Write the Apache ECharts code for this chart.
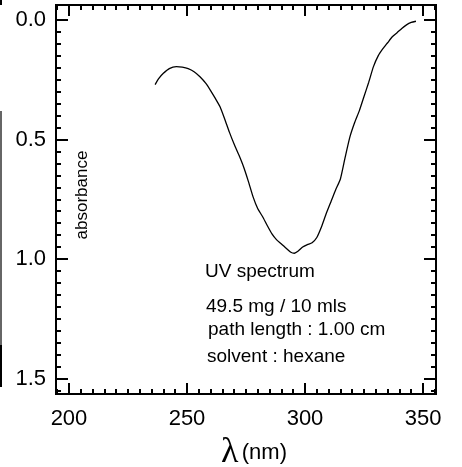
<!DOCTYPE html>
<html>
<head>
<meta charset="utf-8">
<script src="https://cdn.jsdelivr.net/npm/echarts@6/dist/echarts.min.js"></script>
<style>
  html, body { margin: 0; padding: 0; background: #fff; }
  #container { width: 462px; height: 467px; }
</style>
</head>
<body>
<div id="container"></div>
<script>
// spectrum (nm, absorbance)
const wavelength = [236.5, 238, 240, 242.5, 245.5, 248, 250.5, 253, 255.5, 258,
  260, 262, 264, 266, 268, 270, 272, 274, 276, 278,
  280, 282, 284, 286, 288, 290, 292, 294, 295.5, 297,
  299, 301, 303, 305, 307, 309, 311, 313, 315, 317,
  319, 321, 323, 325, 327, 329, 331, 333, 335, 337,
  339, 341, 343, 345, 347];
const absorbance = [0.27, 0.245, 0.223, 0.203, 0.195, 0.197, 0.203, 0.216, 0.237, 0.265,
  0.295, 0.328, 0.363, 0.415, 0.47, 0.52, 0.565, 0.615, 0.675, 0.74,
  0.79, 0.822, 0.86, 0.895, 0.92, 0.937, 0.955, 0.972, 0.976, 0.968,
  0.95, 0.94, 0.932, 0.91, 0.865, 0.81, 0.76, 0.71, 0.665, 0.575,
  0.49, 0.43, 0.38, 0.32, 0.26, 0.195, 0.15, 0.12, 0.095, 0.07,
  0.053, 0.035, 0.02, 0.01, 0.005];

const xTicks = [200, 250, 300, 350];
const yTicks = [0, 0.5, 1.0, 1.5];
const notes = ['UV spectrum', '49.5 mg / 10 mls', 'path length : 1.00 cm', 'solvent : hexane'];

const xMin = 194.5, xMax = 355.5;
const yMin = -0.063, yMax = 1.565;

// minor tick positions (5 nm, 0.05 abs)
let xMinor = [];
for (let v = 195; v <= 355; v += 5) if (v % 50 !== 0) xMinor.push(v);
let yMinor = [];
for (let i = 0; i <= 31; i++) if (i % 10 !== 0) yMinor.push(+(i * 0.05).toFixed(2));

const font = 'Liberation Sans';

function xAx(pos, ticks, len, labels) {
  return {
    type: 'value', position: pos, min: xMin, max: xMax,
    axisLine: { show: false, onZero: false }, splitLine: { show: false },
    axisTick: { show: true, inside: true, length: len, customValues: ticks,
      lineStyle: { color: '#000', width: 2 } },
    axisLabel: { show: labels, customValues: ticks, margin: 14,
      fontSize: 22, color: '#000', fontFamily: font },
  };
}
function yAx(pos, ticks, len, labels) {
  return {
    type: 'value', position: pos, min: yMin, max: yMax, inverse: true,
    axisLine: { show: false, onZero: false }, splitLine: { show: false },
    axisTick: { show: true, inside: true, length: len, customValues: ticks,
      lineStyle: { color: '#000', width: 2 } },
    axisLabel: { show: labels, customValues: ticks, margin: 10,
      fontSize: 22, color: '#000', fontFamily: font,
      formatter: (v) => v.toFixed(1) },
  };
}

let xAxes = [xAx('bottom', xTicks, 11, true), xAx('bottom', xMinor, 5, false),
  xAx('top', xTicks, 11, false), xAx('top', xMinor, 5, false)];
xAxes[0].name = '{l|λ} {u|(nm)}';
xAxes[0].nameLocation = 'middle';
xAxes[0].nameGap = 34;
xAxes[0].nameTextStyle = {
  padding: [0, 0, 0, 16],
  rich: {
    l: { fontFamily: 'Liberation Serif', fontSize: 36, color: '#000' },
    u: { fontFamily: font, fontSize: 22, color: '#000' },
  },
};

let yAxes = [yAx('left', yTicks, 12, true), yAx('left', yMinor, 5, false),
  yAx('right', yTicks, 12, false), yAx('right', yMinor, 5, false)];

let noteY = [272, 307, 330, 357];
let noteX = [205, 206, 208, 207];
let graphics = notes.map((t, i) => ({
  type: 'text', x: noteX[i], y: noteY[i],
  style: { text: t, font: '19px ' + font, fill: '#000', align: 'left', verticalAlign: 'middle' },
}));
graphics.push({
  type: 'text', x: 82, y: 195, rotation: Math.PI / 2,
  style: { text: 'absorbance', font: '17px ' + font, fill: '#000', align: 'center', verticalAlign: 'middle' },
});
// scan edge on the left
graphics.push({ type: 'line', shape: { x1: 1, y1: 0, x2: 1, y2: 5 }, style: { stroke: '#000', lineWidth: 2 } });
graphics.push({ type: 'line', shape: { x1: 1, y1: 111, x2: 1, y2: 345 }, style: { stroke: '#666', lineWidth: 2 } });
graphics.push({ type: 'line', shape: { x1: 1, y1: 345, x2: 1, y2: 387 }, style: { stroke: '#000', lineWidth: 2 } });

var graph = echarts.init(document.getElementById('container'));

let option = {
  backgroundColor: '#fff',
  animation: false,
  grid: { left: 56, right: 26, top: 5, bottom: 73, outerBoundsMode: 'none', containLabel: false,
    show: true, borderColor: '#000', borderWidth: 2, backgroundColor: 'transparent' },
  xAxis: xAxes,
  yAxis: yAxes,
  graphic: graphics,
  series: [{
    type: 'line',
    xAxisIndex: 0, yAxisIndex: 0,
    data: wavelength.map((w, i) => [w, absorbance[i]]),
    showSymbol: false,
    smooth: 0.2,
    lineStyle: { color: '#000', width: 1.3 },
  }],
};

graph.setOption(option);
</script>
</body>
</html>
